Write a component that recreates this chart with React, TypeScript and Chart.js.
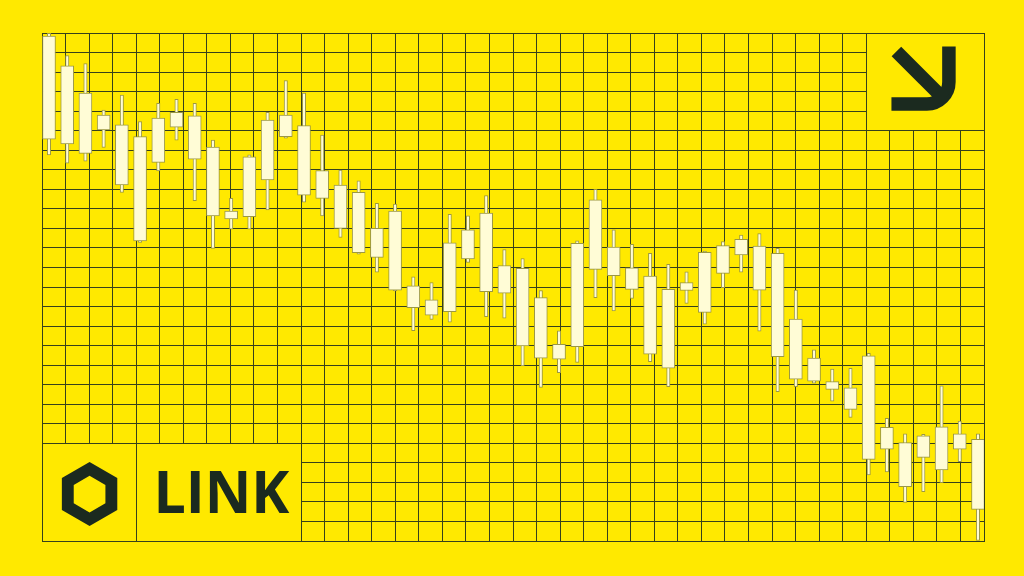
import React, { useEffect, useRef } from "react";
import { Chart, registerables } from "chart.js";

Chart.register(...registerables);

// ---- data (price units; grid = 26 rows x 5) ----
const candleIndex = Array.from({ length: 52 }, (_, i) => i);
const highs = [129.9, 124.2, 122.2, 110.3, 114.1, 107.3, 112.0, 113.0, 112.0, 102.6, 87.7, 98.8, 109.7, 117.8, 114.6, 103.9, 94.9, 92.2, 86.4, 86.2, 67.6, 66.1, 83.6, 83.2, 88.4, 74.6, 72.3, 64.1, 53.8, 76.8, 90.0, 79.6, 75.9, 73.6, 70.8, 68.9, 74.2, 76.6, 78.3, 78.7, 74.9, 64.2, 48.9, 44.0, 44.2, 48.0, 31.4, 27.4, 27.3, 39.7, 30.7, 27.4];
const opens = [129.2, 121.6, 114.6, 109.0, 106.5, 103.5, 108.2, 109.7, 108.8, 100.8, 84.4, 98.3, 107.7, 109.0, 106.3, 94.8, 91.1, 89.2, 80.0, 84.4, 65.3, 61.7, 76.3, 79.6, 83.9, 70.5, 69.8, 62.3, 50.3, 76.2, 87.3, 75.2, 69.9, 67.8, 64.4, 66.1, 73.9, 75.6, 77.2, 75.5, 73.6, 56.8, 46.8, 40.8, 39.2, 47.4, 29.1, 25.2, 26.9, 29.2, 27.4, 26.0];
const closes = [102.8, 101.6, 99.2, 105.2, 91.1, 76.8, 96.9, 105.9, 97.7, 83.2, 82.4, 83.0, 92.4, 103.5, 88.5, 87.7, 80.0, 73.8, 72.6, 64.2, 59.7, 57.8, 58.7, 72.2, 63.8, 63.4, 49.9, 46.8, 46.5, 49.7, 69.5, 67.9, 64.4, 47.8, 44.2, 64.1, 58.5, 68.5, 73.2, 64.2, 47.2, 41.4, 40.9, 38.8, 33.7, 20.9, 23.5, 13.9, 21.4, 18.2, 23.5, 8.1];
const lows = [98.8, 96.7, 97.2, 100.7, 89.2, 76.4, 94.7, 102.6, 87.1, 74.9, 79.8, 79.8, 84.7, 103.1, 86.7, 83.2, 77.7, 73.4, 68.8, 64.0, 53.8, 56.7, 56.0, 71.3, 57.4, 57.0, 44.8, 39.3, 43.1, 45.7, 62.3, 58.9, 62.1, 45.9, 39.5, 60.8, 55.5, 64.8, 68.8, 53.7, 38.2, 39.5, 40.4, 35.8, 31.6, 16.9, 17.7, 9.9, 12.6, 14.9, 20.3, 0.0];

const gridColumns = Array.from({ length: 41 }, (_, i) => i);
const gridRows = Array.from({ length: 27 }, (_, i) => i * 5);
const tickerLabel = "LINK";

// ---- styles ----
const YELLOW = "#FFE900";
const GRID = "#36401c";
const DARK = "#1b2a1f";
const CREAM = "#FFFCD6";
const OUTLINE = "#9c9842";

const alignPx = (p: number) => Math.round(p - 0.5) + 0.5;

const decorPlugin = {
  id: "decor",
  beforeDatasetsDraw(chart: any) {
    const ctx = chart.ctx as CanvasRenderingContext2D;
    const xs = chart.scales.xg;
    const ys = chart.scales.y;
    const X = (v: number) => xs.getPixelForValue(v);
    const Y = (v: number) => ys.getPixelForValue(v);

    const box = (x0: number, x1: number, y0: number, y1: number) => {
      const l = alignPx(X(x0));
      const r = alignPx(X(x1));
      const t = alignPx(Y(y1));
      const b = alignPx(Y(y0));
      ctx.fillStyle = YELLOW;
      ctx.fillRect(l, t, r - l, b - t);
      ctx.strokeStyle = GRID;
      ctx.lineWidth = 1;
      ctx.strokeRect(l, t, r - l, b - t);
    };

    ctx.save();
    // logo box
    box(0, 11, 0, 25);
    ctx.beginPath();
    ctx.moveTo(alignPx(X(4)), alignPx(Y(25)));
    ctx.lineTo(alignPx(X(4)), alignPx(Y(0)));
    ctx.strokeStyle = GRID;
    ctx.lineWidth = 1;
    ctx.stroke();
    // arrow box
    box(35, 40, 105, 130);

    // hexagon logo
    const cx = X(2.02);
    const cy = Y(12.0);
    const hex = (r: number) => {
      for (let k = 0; k < 6; k++) {
        const a = -Math.PI / 2 + (k * Math.PI) / 3;
        const px = cx + r * Math.cos(a);
        const py = cy + r * Math.sin(a);
        if (k === 0) ctx.moveTo(px, py);
        else ctx.lineTo(px, py);
      }
      ctx.closePath();
    };
    ctx.beginPath();
    hex(32);
    hex(18.3);
    ctx.fillStyle = DARK;
    ctx.fill("evenodd");

    // LINK text
    ctx.fillStyle = DARK;
    ctx.font = '700 59px "Open Sans", "Noto Sans", sans-serif';
    ctx.textBaseline = "alphabetic";
    ctx.textAlign = "left";
    ctx.fillText(tickerLabel, X(4.73), Y(7.1), 136);

    // arrow icon
    ctx.strokeStyle = DARK;
    ctx.lineWidth = 13.5;
    ctx.lineCap = "butt";
    ctx.lineJoin = "miter";
    ctx.beginPath();
    ctx.moveTo(X(38.51), Y(126.55));
    ctx.arcTo(X(38.51), Y(111.83), X(36.07), Y(111.83), 22);
    ctx.lineTo(X(36.07), Y(111.83));
    ctx.stroke();
    ctx.beginPath();
    ctx.moveTo(X(36.28), Y(125.27));
    ctx.lineTo(X(38.3), Y(113.1));
    ctx.stroke();
    ctx.restore();
  },
};

export default function App() {
  const ref = useRef<HTMLCanvasElement | null>(null);

  useEffect(() => {
    document.body.style.margin = "0";
    document.body.style.background = YELLOW;
    const canvas = ref.current;
    if (!canvas) return;

    const wickData = candleIndex.map((i) => ({ x: i, y: [lows[i], highs[i]] }));
    const bodyData = candleIndex.map((i) => ({ x: i, y: [closes[i], opens[i]] }));

    const chart = new Chart(canvas, {
      type: "bar",
      data: {
        datasets: [
          {
            label: "body",
            data: bodyData as any,
            backgroundColor: CREAM,
            borderColor: OUTLINE,
            borderWidth: 1,
            borderSkipped: false,
            barThickness: 13,
            grouped: false,
            order: 1,
          } as any,
          {
            label: "wick",
            data: wickData as any,
            backgroundColor: CREAM,
            borderColor: OUTLINE,
            borderWidth: 1,
            borderSkipped: false,
            barThickness: 3.4,
            grouped: false,
            order: 2,
          } as any,
        ],
      },
      options: {
        responsive: false,
        devicePixelRatio: 1,
        animation: false,
        events: [],
        layout: { padding: { left: 42, right: 40, top: 33, bottom: 35 } },
        plugins: {
          legend: { display: false },
          tooltip: { enabled: false },
        },
        scales: {
          x: {
            type: "linear",
            display: false,
            min: -0.384,
            max: 51.33,
            offset: false,
            grid: { offset: false },
          },
          xg: {
            type: "linear",
            position: "bottom",
            min: 0,
            max: 40,
            offset: false,
            afterBuildTicks: (scale: any) => {
              scale.ticks = gridColumns.map((v) => ({ value: v }));
            },
            ticks: { display: false },
            grid: { color: GRID, lineWidth: 1, drawTicks: false, offset: false },
            border: { display: true, color: GRID, width: 1 },
          },
          y: {
            type: "linear",
            position: "left",
            min: 0,
            max: 130,
            offset: false,
            afterBuildTicks: (scale: any) => {
              scale.ticks = gridRows.map((v) => ({ value: v }));
            },
            ticks: { display: false },
            grid: { color: GRID, lineWidth: 1, drawTicks: false, offset: false },
            border: { display: true, color: GRID, width: 1 },
          },
        },
      } as any,
      plugins: [decorPlugin],
    });

    return () => chart.destroy();
  }, []);

  return (
    <canvas
      ref={ref}
      width={1024}
      height={576}
      style={{ display: "block", width: 1024, height: 576, background: YELLOW }}
    />
  );
}
